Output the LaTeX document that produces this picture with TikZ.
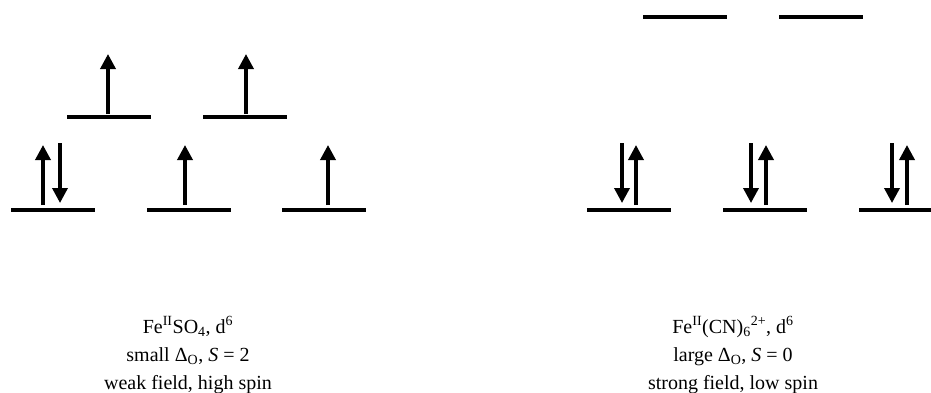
\documentclass[tikz,border=0pt]{standalone}
\usepackage{fontspec}
\setmainfont{Liberation Serif}
\usetikzlibrary{arrows.meta, math}

\begin{document}
\begin{tikzpicture}[x=1pt, y=-1pt,
  level/.style={line width=4pt},
  spin/.style={line width=3.5pt, -{Triangle[width=15pt,length=15pt]}},
  caption/.style={anchor=base, inner sep=0pt, font=\fontsize{20}{24}\selectfont}]

\tikzmath{
\W = 42;% half width of a level
\yb = 210;% t2g levels
\ytw = 117;% eg levels, weak field
\yts = 17;% eg levels, strong field
}

\useasboundingbox (0,0) rectangle (931,392);

%levels
\foreach \x in {53,189,324,629,765,901}{
 \draw[level] (\x-\W,\yb) -- (\x+\W,\yb);
}
\foreach \x in {109,245}{
 \draw[level] (\x-\W,\ytw) -- (\x+\W,\ytw);
}
\foreach \x in {685,821}{
 \draw[level] (\x-\W,\yts) -- (\x+\W,\yts);
}

%electrons, spin up
\foreach \x in {43,185,328,636,766,907}{
 \draw[spin] (\x,\yb-5) -- (\x,\yb-65);
}
\foreach \x in {108,246}{
 \draw[spin] (\x,\ytw-3) -- (\x,\ytw-63);
}
%electrons, spin down
\foreach \x in {60,622,751,892}{
 \draw[spin] (\x,\yb-67) -- (\x,\yb-7);
}

%captions
\node[caption] (weak1) at (188,333) {Fe\textsuperscript{II}SO\textsubscript{4}, d\textsuperscript{6}};
\node[caption] (weak2) at (188,361) {small Δ\textsubscript{O}, \textit{S} = 2};
\node[caption] (weak3) at (188,389) {weak field, high spin};

\node[caption] (strong1) at (733,333) {Fe\textsuperscript{II}(CN)\textsubscript{6}\textsuperscript{2+}, d\textsuperscript{6}};
\node[caption] (strong2) at (733,361) {large Δ\textsubscript{O}, \textit{S} = 0};
\node[caption] (strong3) at (733,389) {strong field, low spin};

\end{tikzpicture}
\end{document}
